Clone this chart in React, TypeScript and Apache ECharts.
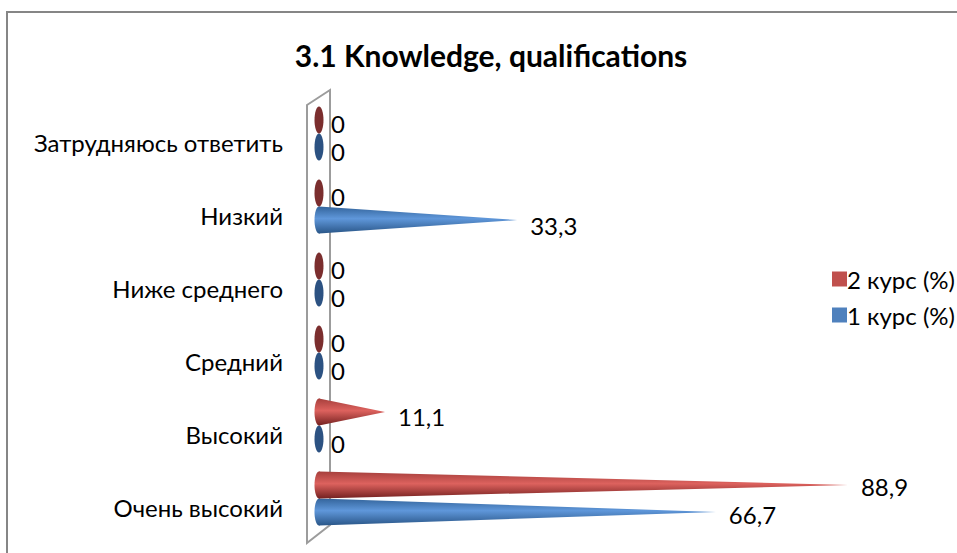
import React, { useEffect, useRef } from "react";
import * as echarts from "echarts";

const titleText = "3.1 Knowledge, qualifications";
const categories = ["Очень высокий", "Высокий", "Средний", "Ниже среднего", "Низкий", "Затрудняюсь ответить"];
const course2Name = "2 курс (%)";
const course1Name = "1 курс (%)";
const course2Values = [88.9, 11.1, 0, 0, 0, 0];
const course1Values = [66.7, 0, 0, 0, 33.3, 0];

const FONT = "Lato, 'Open Sans', 'Noto Sans', sans-serif";

const fmt = (v: number) => (v === 0 ? "0" : v.toFixed(1).replace(".", ","));
const grad = (a: string, b: string, c: string) => ({
  type: "linear", x: 0, y: 0, x2: 0, y2: 1,
  colorStops: [{ offset: 0, color: a }, { offset: 0.45, color: b }, { offset: 1, color: c }],
});

function coneSeries(name: string, values: number[], offset: number, color: string, dark: string, fill: any) {
  return {
    type: "custom",
    name,
    z: 5,
    silent: true,
    itemStyle: { color },
    encode: { x: 0, y: 1 },
    data: values.map((v, i) => [v, i]),
    renderItem: (_p: any, api: any) => {
      const v = api.value(0);
      const band = api.size([0, 1])[1];
      const base = api.coord([0, api.value(1)]);
      const tip = api.coord([v, api.value(1)]);
      const y = base[1] + offset * band;
      const h = band * 0.185;
      const rx = 4.5;
      const zero = v === 0;
      const children: any[] = [];
      if (!zero) {
        children.push({
          type: "polygon",
          shape: { points: [[base[0], y - h], [tip[0], y], [base[0], y + h]] },
          style: { fill },
        });
      }
      children.push({
        type: "ellipse",
        shape: { cx: base[0], cy: y, rx, ry: h },
        style: { fill: zero ? dark : fill },
      });
      children.push({
        type: "text",
        style: {
          text: fmt(v),
          x: tip[0] + (zero ? 12 : 13),
          y: y + (v > 50 ? 2 : v > 0 ? 5 : 4),
          align: "left",
          verticalAlign: "middle",
          fontFamily: FONT,
          fontSize: 24,
          fill: "#000",
        },
      });
      return { type: "group", children };
    },
  };
}

export default function App() {
  const ref = useRef<HTMLDivElement>(null);
  useEffect(() => {
    document.body.style.margin = "0";
    document.body.style.overflow = "hidden";
    const chart = echarts.init(ref.current!, undefined, { renderer: "svg" });
    chart.setOption({
      animation: false,
      backgroundColor: "#fff",
      title: {
        text: titleText,
        left: 486,
        top: 35,
        textAlign: "center",
        textStyle: { fontFamily: FONT, fontSize: 30, fontWeight: "bold", color: "#000" },
      },
      legend: {
        orient: "vertical",
        left: 827,
        top: 262,
        itemWidth: 15,
        itemHeight: 15,
        itemGap: 12,
        data: [course2Name, course1Name],
        icon: "rect",
        selectedMode: false,
        textStyle: { fontFamily: FONT, fontSize: 24, color: "#000", padding: [0, 0, 0, -5] },
      },
      grid: { left: 319, width: 595, top: 97, height: 438 },
      xAxis: { type: "value", min: 0, max: 100, show: false },
      yAxis: {
        type: "category",
        data: categories,
        axisLine: { show: false },
        axisTick: { show: false },
        splitLine: { show: false },
        axisLabel: { margin: 36, fontFamily: FONT, fontSize: 24, color: "#000", verticalAlign: "top", lineHeight: 18 },
      },
      graphic: [
        {
          type: "polyline",
          z: 0,
          shape: { points: [[7, 553], [7, 12], [957, 12]] },
          style: { stroke: "#868686", lineWidth: 2, fill: "none" },
        },
        {
          type: "polygon",
          z: 0,
          shape: { points: [[307, 105], [330, 90], [330, 525], [307, 543]] },
          style: { stroke: "#9c9c9c", lineWidth: 2, fill: "none" },
        },
      ],
      series: [
        coneSeries(course1Name, course1Values, 0.185, "#4f81bd", "#2c5282", grad("#33649b", "#5f97da", "#2a5688")),
        coneSeries(course2Name, course2Values, -0.185, "#c0504d", "#7b2e2e", grad("#a63f3c", "#dd625e", "#742120")),
      ],
    });
    return () => chart.dispose();
  }, []);
  return <div ref={ref} style={{ width: 957, height: 553, position: "absolute", left: 0, top: 0 }} />;
}
